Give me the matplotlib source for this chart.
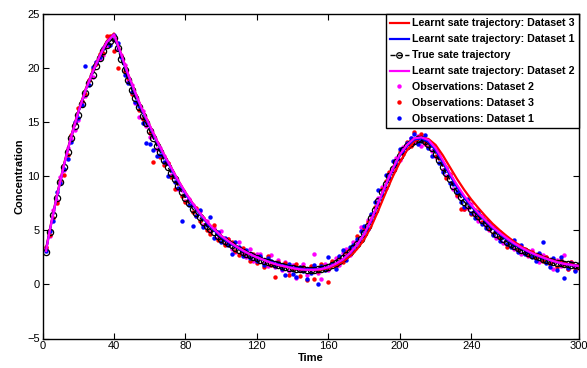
import numpy as np
import matplotlib
matplotlib.use('Agg')
import matplotlib.pyplot as plt
from matplotlib.lines import Line2D

plt.rcParams['font.family'] = ['Liberation Sans', 'DejaVu Sans']

# sampling times
t_obs = np.arange(2, 301, 2)
t_line = np.concatenate(([2], np.arange(4, 301, 4)))

# true state trajectory (circles, every 2 time units)
true_state = [
    3.0, 4.8, 6.4, 8.0, 9.5, 10.9, 12.2, 13.5, 14.6, 15.7,
    16.7, 17.7, 18.6, 19.4, 20.2, 20.9, 21.6, 22.1, 22.5, 22.8,
    21.9, 20.8, 19.8, 18.9, 18.0, 17.2, 16.4, 15.6, 14.9, 14.2,
    13.5, 12.8, 12.2, 11.5, 10.9, 10.3, 9.7, 9.1, 8.5, 8.0,
    7.5, 7.0, 6.6, 6.2, 5.8, 5.4, 5.1, 4.8, 4.5, 4.2,
    4.0, 3.8, 3.6, 3.4, 3.2, 3.0, 2.8, 2.7, 2.5, 2.4,
    2.3, 2.2, 2.1, 2.0, 1.9, 1.8, 1.7, 1.6, 1.55, 1.5,
    1.45, 1.4, 1.38, 1.36, 1.35, 1.35, 1.38, 1.42, 1.5, 1.6,
    1.75, 1.95, 2.15, 2.4, 2.7, 3.0, 3.35, 3.75, 4.2, 4.75,
    5.4, 6.1, 6.9, 7.7, 8.5, 9.3, 10.0, 10.7, 11.3, 11.9,
    12.4, 12.8, 13.1, 13.3, 13.4, 13.4, 13.3, 13.0, 12.6, 12.1,
    11.5, 10.9, 10.3, 9.7, 9.1, 8.6, 8.1, 7.65, 7.3, 6.95,
    6.6, 6.3, 6.0, 5.65, 5.3, 5.0, 4.7, 4.45, 4.2, 3.95,
    3.75, 3.55, 3.35, 3.2, 3.05, 2.9, 2.75, 2.6, 2.5, 2.35,
    2.25, 2.15, 2.05, 2.0, 1.95, 1.9, 1.85, 1.8, 1.75, 1.7,
]

# learnt trajectories (t_line grid)
learnt_1 = [
    3.2, 4.9, 8.1, 11.0, 13.6, 15.9, 17.9, 19.6, 21.1, 22.4, 23.1,
    21.2, 19.3, 17.6, 16.0, 14.6, 13.2, 11.9, 10.7, 9.5, 8.4,
    7.4, 6.5, 5.7, 5.0, 4.4, 3.9, 3.5, 3.1, 2.8, 2.5,
    2.25, 2.05, 1.85, 1.7, 1.55, 1.45, 1.4, 1.4, 1.45, 1.6,
    1.9, 2.3, 2.85, 3.6, 4.6, 5.9, 7.5, 9.1, 10.6, 11.9,
    12.8, 13.4, 13.5, 13.2, 12.4, 11.3, 10.1, 9.0, 8.0, 7.2,
    6.5, 5.85, 5.2, 4.65, 4.15, 3.7, 3.35, 3.0, 2.7, 2.45,
    2.25, 2.05, 1.9, 1.8, 1.7,
]
learnt_2 = [
    3.1, 4.9, 8.1, 11.0, 13.6, 15.9, 17.9, 19.6, 21.1, 22.4, 23.1,
    21.3, 19.4, 17.7, 16.1, 14.7, 13.3, 12.0, 10.8, 9.6, 8.5,
    7.5, 6.6, 5.8, 5.1, 4.5, 4.0, 3.55, 3.15, 2.8, 2.5,
    2.25, 2.0, 1.8, 1.65, 1.5, 1.4, 1.35, 1.35, 1.42, 1.6,
    1.9, 2.3, 2.9, 3.65, 4.65, 6.0, 7.6, 9.2, 10.7, 12.0,
    12.9, 13.5, 13.6, 13.35, 12.6, 11.5, 10.3, 9.2, 8.2, 7.35,
    6.6, 5.95, 5.3, 4.75, 4.25, 3.8, 3.4, 3.05, 2.75, 2.5,
    2.25, 2.05, 1.9, 1.8, 1.7,
]
learnt_3 = [
    3.3, 5.0, 8.2, 11.1, 13.7, 16.0, 18.0, 19.7, 21.2, 22.5, 23.2,
    21.3, 19.4, 17.7, 16.1, 14.7, 13.3, 12.0, 10.8, 9.6, 8.5,
    7.5, 6.6, 5.8, 5.1, 4.5, 4.0, 3.55, 3.15, 2.8, 2.5,
    2.25, 2.0, 1.8, 1.65, 1.5, 1.4, 1.35, 1.32, 1.38, 1.5,
    1.75, 2.1, 2.6, 3.25, 4.15, 5.35, 6.85, 8.45, 9.95, 11.3,
    12.4, 13.2, 13.55, 13.45, 12.9, 11.95, 10.85, 9.75, 8.75, 7.85,
    7.05, 6.3, 5.6, 5.0, 4.45, 3.95, 3.5, 3.15, 2.8, 2.55,
    2.3, 2.1, 1.95, 1.85, 1.75,
]

# noisy observations (t_obs grid)
obs_1 = [
    3.1, 4.9, 5.9, 8.5, 9.4, 10.7, 11.6, 13.2, 15.0, 15.4,
    16.6, 20.2, 18.4, 20.1, 20.6, 21.0, 21.9, 22.4, 22.1, 23.1,
    22.3, 21.0, 19.4, 18.6, 17.8, 16.9, 16.5, 14.9, 13.1, 13.0,
    12.4, 11.9, 12.0, 11.3, 10.0, 10.6, 9.5, 8.9, 5.9, 8.3,
    7.3, 5.4, 6.3, 6.9, 5.3, 5.5, 6.2, 4.3, 4.8, 3.9,
    4.3, 3.6, 2.8, 3.9, 3.5, 2.6, 3.2, 2.4, 2.7, 2.2,
    2.6, 1.8, 2.4, 2.2, 1.7, 2.0, 1.4, 0.9, 1.9, 1.0,
    0.7, 1.6, 1.2, 0.5, 1.1, 1.8, 0.0, 1.7, 1.3, 2.5,
    1.9, 1.4, 2.6, 3.2, 2.3, 3.5, 3.6, 4.2, 4.9, 5.4,
    5.1, 6.5, 7.6, 8.7, 8.3, 10.1, 9.8, 11.4, 11.0, 12.5,
    12.2, 13.1, 13.5, 13.9, 13.0, 13.3, 13.8, 12.6, 11.9, 12.4,
    11.2, 10.4, 10.8, 9.4, 9.3, 8.5, 7.6, 7.2, 7.9, 6.6,
    6.1, 6.7, 5.6, 5.2, 5.6, 4.6, 5.0, 4.0, 4.4, 3.7,
    3.5, 4.1, 3.0, 3.6, 2.8, 3.1, 2.5, 2.2, 2.9, 3.9,
    2.0, 1.6, 2.4, 1.3, 2.5, 0.6, 1.5, 2.0, 1.2, 1.9,
]
obs_2 = [
    3.4, 4.5, 6.9, 7.7, 9.9, 10.6, 12.6, 13.4, 14.3, 15.2,
    16.9, 17.4, 18.9, 19.2, 20.6, 20.8, 21.2, 22.0, 22.9, 22.6,
    21.8, 21.2, 20.3, 18.8, 18.4, 16.8, 15.5, 16.0, 14.6, 13.6,
    13.8, 12.5, 12.6, 11.9, 11.2, 10.1, 9.9, 8.8, 8.7, 7.7,
    7.9, 7.3, 6.3, 6.8, 5.5, 5.9, 4.8, 5.2, 4.3, 4.9,
    3.7, 4.2, 3.3, 3.0, 3.9, 2.8, 2.5, 3.3, 2.2, 2.8,
    2.8, 2.0, 1.7, 2.7, 1.6, 2.3, 1.3, 2.1, 1.2, 1.8,
    0.6, 1.3, 1.9, 0.9, 1.6, 2.8, 1.1, 0.5, 1.9, 1.3,
    2.1, 2.4, 1.8, 2.9, 3.3, 2.7, 3.9, 4.0, 5.3, 4.5,
    6.0, 5.9, 6.6, 8.0, 9.0, 8.9, 10.3, 10.5, 11.7, 11.5,
    12.7, 12.6, 13.5, 13.2, 13.7, 12.8, 13.0, 13.3, 12.3, 11.8,
    11.9, 10.6, 10.0, 10.1, 8.8, 8.2, 8.4, 7.0, 7.1, 7.4,
    6.4, 5.9, 6.3, 5.4, 5.0, 5.4, 4.3, 4.8, 3.8, 4.3,
    3.9, 3.3, 3.6, 2.8, 3.3, 2.6, 3.2, 2.4, 2.1, 2.7,
    2.5, 2.0, 1.4, 2.3, 1.7, 2.7, 1.4, 2.1, 1.6, 1.5,
]
obs_3 = [
    3.5, 4.6, 6.1, 7.5, 9.6, 10.1, 12.0, 13.8, 14.9, 16.3,
    17.0, 17.6, 18.9, 19.9, 20.4, 21.3, 21.4, 23.0, 23.0, 21.6,
    20.0, 21.1, 19.7, 19.1, 17.6, 17.5, 16.1, 15.3, 15.2, 14.0,
    11.3, 13.1, 11.8, 11.0, 11.2, 9.9, 8.8, 9.4, 8.2, 7.6,
    7.8, 6.7, 7.1, 5.9, 6.1, 5.0, 4.7, 5.5, 4.1, 4.4,
    3.6, 4.2, 3.9, 3.1, 2.7, 3.4, 2.9, 2.2, 2.8, 2.0,
    2.5, 1.6, 2.6, 1.8, 0.65, 2.1, 1.5, 2.0, 0.9, 1.4,
    1.9, 0.8, 1.6, 0.4, 1.7, 0.5, 1.2, 1.9, 1.4, 0.2,
    2.2, 1.7, 2.5, 2.1, 3.0, 3.3, 3.1, 4.5, 4.0, 5.2,
    5.8, 6.4, 7.2, 7.4, 8.8, 9.6, 10.4, 10.9, 11.1, 12.2,
    12.1, 13.2, 12.8, 14.1, 13.6, 13.9, 13.1, 12.7, 12.9, 11.9,
    11.7, 11.1, 9.8, 10.2, 9.4, 8.3, 7.0, 7.0, 7.6, 6.5,
    6.9, 6.1, 5.8, 5.9, 5.1, 4.7, 5.0, 4.3, 4.6, 3.5,
    4.0, 3.7, 3.2, 3.4, 2.9, 2.7, 3.0, 2.4, 2.8, 2.2,
    2.5, 1.9, 2.2, 1.6, 2.3, 1.9, 1.4, 2.1, 1.3, 1.6,
]

xticks = [0, 40, 80, 120, 160, 200, 240, 300]
yticks = [-5, 0, 5, 10, 15, 20, 25]

RED, BLUE, MAG = '#ff0000', '#0000ff', '#ff00ff'

fig = plt.figure(figsize=(5.87, 3.68), dpi=100)
ax = fig.add_axes([42.5 / 587, 29.5 / 368, 536 / 587, 324.5 / 368])

dot = dict(linestyle='none', marker='o', markersize=3.2, markeredgewidth=0)
ax.plot(t_obs, obs_2, color=MAG, **dot)
ax.plot(t_obs, obs_3, color=RED, **dot)
ax.plot(t_obs, obs_1, color=BLUE, **dot)
ax.plot(t_obs, true_state, color='black', linestyle='--', linewidth=1,
        marker='o', markersize=4.5, markerfacecolor='none', markeredgewidth=0.9)
ax.plot(t_line, learnt_3, color=RED, linewidth=1.6)
ax.plot(t_line, learnt_1, color=BLUE, linewidth=1.6)
ax.plot(t_line, learnt_2, color=MAG, linewidth=1.6)

ax.set_xlim(0, 300)
ax.set_ylim(-5, 25)
ax.set_xticks(xticks)
ax.set_yticks(yticks)
ax.tick_params(direction='in', top=True, right=True, length=4, width=0.8,
               labelsize=8, pad=2)
for s in ax.spines.values():
    s.set_linewidth(1.0)

ax.set_xlabel('Time', fontsize=8, fontweight='bold', labelpad=1)
ax.set_ylabel('Concentration', fontsize=8, fontweight='bold', labelpad=2)

handles = [
    Line2D([], [], color=RED, linewidth=1.6),
    Line2D([], [], color=BLUE, linewidth=1.6),
    Line2D([], [], color='black', linestyle='--', linewidth=1, marker='o',
           markersize=4, markerfacecolor='none', markeredgewidth=0.9),
    Line2D([], [], color=MAG, linewidth=1.6),
    Line2D([], [], color=MAG, **dot),
    Line2D([], [], color=RED, **dot),
    Line2D([], [], color=BLUE, **dot),
]
labels = [
    'Learnt sate trajectory: Dataset 3',
    'Learnt sate trajectory: Dataset 1',
    'True sate trajectory',
    'Learnt sate trajectory: Dataset 2',
    'Observations: Dataset 2',
    'Observations: Dataset 3',
    'Observations: Dataset 1',
]
leg = ax.legend(handles, labels, loc='upper right', borderaxespad=0,
                prop={'size': 7.7, 'weight': 'bold'}, fancybox=False,
                handlelength=1.8, handletextpad=0.25, labelspacing=0.56,
                borderpad=0.4, framealpha=1)
leg.get_frame().set_edgecolor('black')
leg.get_frame().set_linewidth(1.0)

fig.savefig('out.png', dpi=100)
